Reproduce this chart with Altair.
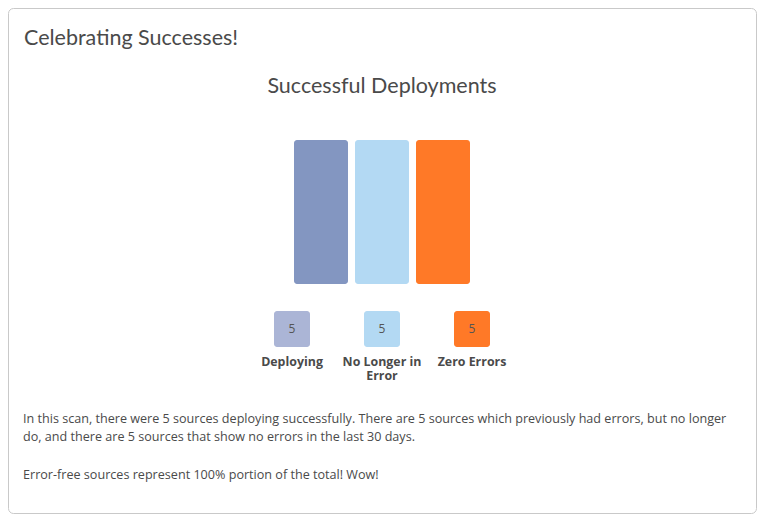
import altair as alt
import pandas as pd

# ---- data ----
card_title = ["Celebrating Successes!"]
chart_title = ["Successful Deployments"]
categories = ["Deploying", "No Longer in Error", "Zero Errors"]
labels = ["Deploying", "No Longer in\nError", "Zero Errors"]
values = [5, 5, 5]
bar_colors = ["#8396c1", "#b3d9f3", "#ff7927"]
legend_colors = ["#abb5d6", "#b3d9f3", "#ff7927"]
paragraph1 = ["In this scan, there were 5 sources deploying successfully. There are 5 sources which previously had errors, but no longer\ndo, and there are 5 sources that show no errors in the last 30 days."]
paragraph2 = ["Error-free sources represent 100% portion of the total! Wow!"]

W, H = 749, 506
TEXT = "#4a4a4a"

df = pd.DataFrame({"cat": categories, "label": labels, "value": values})

card = alt.Chart(pd.DataFrame({"k": [0]})).mark_rect(
    fill="white", stroke="#c9c9c9", strokeWidth=1, cornerRadius=5
).encode(x=alt.value(0.5), x2=alt.value(W - 0.5), y=alt.value(0.5), y2=alt.value(H - 0.5))

t1 = alt.Chart(pd.DataFrame({"t": card_title})).mark_text(
    font="Lato", fontSize=21.5, color=TEXT, align="left", baseline="alphabetic"
).encode(x=alt.value(16), y=alt.value(37), text="t:N")

t2 = alt.Chart(pd.DataFrame({"t": chart_title})).mark_text(
    font="Lato", fontSize=21.5, color=TEXT, align="center", baseline="alphabetic"
).encode(x=alt.value(374), y=alt.value(85), text="t:N")

bars = alt.Chart(df).mark_bar(cornerRadius=3).encode(
    x=alt.X("cat:N", sort=categories, axis=None,
            scale=alt.Scale(range=[286, 462], paddingInner=0.1148, paddingOuter=0)),
    y=alt.Y("value:Q", axis=None, scale=alt.Scale(domain=[0, 5], range=[276, 132])),
    color=alt.Color("cat:N", legend=None, scale=alt.Scale(domain=categories, range=bar_colors)),
)

lx = alt.X("cat:N", sort=categories, axis=None,
           scale=alt.Scale(range=[266, 482], paddingInner=0.6, paddingOuter=0))

squares = alt.Chart(df).mark_rect(cornerRadius=3).encode(
    x=lx,
    y=alt.value(303), y2=alt.value(339),
    color=alt.Color("cat:N", legend=None, scale=alt.Scale(domain=categories, range=legend_colors)),
)
nums = alt.Chart(df).mark_text(font="Open Sans", fontSize=12, color="#555555", baseline="middle").encode(
    x=lx, y=alt.value(321), text="value:Q"
)
labs = alt.Chart(df).mark_text(font="Open Sans", fontSize=12.4, fontWeight="bold", color=TEXT,
                               baseline="alphabetic", lineBreak="\n", lineHeight=14).encode(
    x=lx, y=alt.value(358), text="label:N"
)
legend_layer = alt.layer(squares, nums, labs)

p1 = alt.Chart(pd.DataFrame({"t": paragraph1})).mark_text(
    font="Open Sans", fontSize=12.6, color=TEXT, align="left", baseline="alphabetic",
    lineBreak="\n", lineHeight=18
).encode(x=alt.value(15), y=alt.value(415), text="t:N")

p2 = alt.Chart(pd.DataFrame({"t": paragraph2})).mark_text(
    font="Open Sans", fontSize=12.6, color=TEXT, align="left", baseline="alphabetic"
).encode(x=alt.value(15), y=alt.value(471), text="t:N")

chart = alt.layer(card, t1, t2, bars, legend_layer, p1, p2).resolve_scale(
    x="independent", color="independent", y="independent"
).properties(
    width=W, height=H, padding=0,
    autosize=alt.AutoSizeParams(type="fit", contains="padding"),
).configure_view(stroke=None)

chart.save("out.html", embed_options={"renderer": "svg", "actions": False})
